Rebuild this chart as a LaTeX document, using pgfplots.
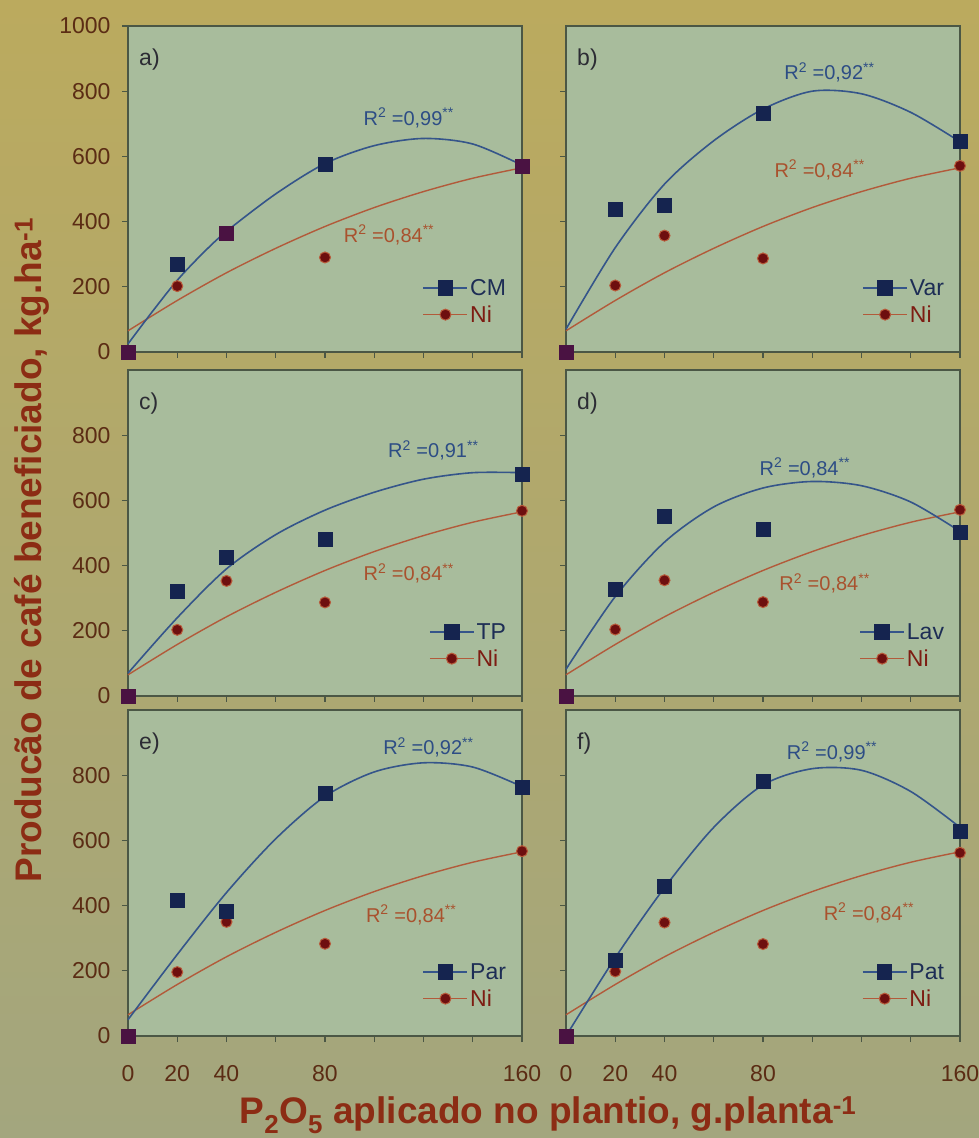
\documentclass[border=0pt]{standalone}
\usepackage{pgfplots}
\pgfplotsset{compat=1.18}
\usepackage{fontspec}
\setmainfont{Liberation Sans}

\definecolor{bgtop}{HTML}{BBAA5E}
\definecolor{bgbot}{HTML}{A3A67E}
\definecolor{panelbg}{HTML}{A8BC9C}
\definecolor{frame}{HTML}{4B5745}
\definecolor{bluemark}{HTML}{15244F}
\definecolor{bluecurve}{HTML}{35558A}
\definecolor{redmark}{HTML}{6E0F0F}
\definecolor{redhalo}{HTML}{B85A3A}
\definecolor{redcurve}{HTML}{B25A3A}
\definecolor{purplemark}{HTML}{4A1242}
\definecolor{ticktext}{HTML}{5B2C14}
\definecolor{labelcol}{HTML}{8C2C14}
\definecolor{rblue}{HTML}{2D4D85}
\definecolor{rred}{HTML}{A9522E}
\definecolor{lettercol}{HTML}{2C2C34}
\definecolor{legblue}{HTML}{1D2D55}
\definecolor{legred}{HTML}{7D1C12}

\newcommand{\fs}[1]{\fontsize{#1}{#1}\selectfont}
\newcommand{\Rsq}[1]{R\textsuperscript{2} =#1\textsuperscript{**}}

\tikzset{
  rlab/.style={font=\fs{20}, text=rred},
  blab/.style={font=\fs{20}, text=rblue},
  plab/.style={font=\fs{23}, text=lettercol, anchor=north west, inner sep=0pt},
}

\pgfplotsset{
  legend image code/.code={\draw[mark repeat=2,mark phase=2,#1] plot coordinates {(0pt,0pt)(22pt,0pt)(44pt,0pt)};},
  panel/.style={
    scale only axis, width=394pt, height=326pt,
    xmin=0, xmax=160, ymin=0, ymax=1000,
    axis background/.style={fill=panelbg},
    axis line style={draw=frame, line width=1.6pt},
    tick style={draw=frame, line width=1.2pt},
    tick align=outside, xtick pos=bottom, ytick pos=left,
    major tick length=6pt, minor tick length=6pt,
    xtick={0,20,40,80,160}, minor xtick={60,100,120,140},
    ytick={0,200,400,600,800},
    xticklabels={}, yticklabels={},
    ticklabel style={font=\fs{23}, text=ticktext},
    xticklabel style={yshift=-20pt},
    yticklabel style={xshift=-8pt},
    clip=false,
    legend style={draw=none, fill=none, font=\fs{23},
      at={(axis description cs:0.965,0.08)}, anchor=south east,
      inner sep=0pt, row sep=5pt},
    legend cell align=left,
  },
  fitb/.style={color=bluecurve, line width=1.6pt, smooth, no markers, forget plot},
  fitr/.style={color=redcurve, line width=1.4pt, smooth, no markers, forget plot},
  datb/.style={only marks, mark=square*, mark size=7pt, mark options={draw=bluemark, fill=bluemark}, forget plot},
  datr/.style={only marks, mark=*, mark size=5.5pt, mark options={draw=redhalo, fill=redmark, line width=1pt}, forget plot},
  datp/.style={only marks, mark=square*, mark size=7pt, mark options={draw=purplemark, fill=purplemark}, forget plot},
  legb/.style={color=bluecurve, line width=1.6pt, mark=square*, mark size=7pt, mark options={draw=bluemark, fill=bluemark}},
  legr/.style={color=redcurve, line width=1.4pt, mark=*, mark size=5.5pt, mark options={draw=redhalo, fill=redmark, line width=1pt}},
}

\begin{document}
\begin{tikzpicture}
\path[use as bounding box] (0pt,0pt) rectangle (979pt,1138pt);
\shade[top color=bgtop, bottom color=bgbot] (0pt,0pt) rectangle (979pt,1138pt);

% ---------------- a) CM
\begin{axis}[panel, at={(128pt,786pt)},
  ytick={0,200,400,600,800,1000}, yticklabels={0,200,400,600,800,1000}]
\addplot[fitr] coordinates {(0,65)(20,158)(40,243)(60,318)(80,385)(100,443)(120,492)(140,533)(160,565)};
\addplot[fitb] coordinates {(0,25)(10,125)(20,220)(30,300)(40,370)(60,485)(80,578)(100,633)(120,655)(140,638)(160,573)};
\addplot[datr] coordinates {(20,202)(40,365)(80,290)(160,570)};
\addplot[datb] coordinates {(20,270)(40,365)(80,576)(160,570)};
\addplot[datp] coordinates {(0,0)(40,365)(160,570)};
\addlegendimage{legb}\addlegendentry{\textcolor{legblue}{CM}}
\addlegendimage{legr}\addlegendentry{\textcolor{legred}{Ni}}
\node[blab] at (axis cs:114,718) {\Rsq{0,99}};
\node[rlab] at (axis cs:106,359) {\Rsq{0,84}};
\node[plab] at (rel axis cs:0.028,0.93) {a)};
\end{axis}

% ---------------- b) Var
\begin{axis}[panel, at={(566pt,786pt)}]
\addplot[fitr] coordinates {(0,65)(20,158)(40,243)(60,318)(80,385)(100,443)(120,492)(140,533)(160,565)};
\addplot[fitb] coordinates {(0,70)(20,320)(40,515)(60,648)(80,745)(100,800)(120,792)(140,735)(160,645)};
\addplot[datr] coordinates {(20,204)(40,357)(80,287)(160,571)};
\addplot[datb] coordinates {(20,437)(40,449)(80,733)(160,647)};
\addplot[datp] coordinates {(0,0)};
\addlegendimage{legb}\addlegendentry{\textcolor{legblue}{Var}}
\addlegendimage{legr}\addlegendentry{\textcolor{legred}{Ni}}
\node[blab] at (axis cs:107,858) {\Rsq{0,92}};
\node[rlab] at (axis cs:103,559) {\Rsq{0,84}};
\node[plab] at (rel axis cs:0.028,0.93) {b)};
\end{axis}

% ---------------- c) TP
\begin{axis}[panel, at={(128pt,442pt)}, yticklabels={0,200,400,600,800}]
\addplot[fitr] coordinates {(0,65)(20,158)(40,243)(60,318)(80,385)(100,443)(120,492)(140,533)(160,565)};
\addplot[fitb] coordinates {(0,70)(20,240)(40,390)(60,495)(80,570)(100,625)(120,665)(140,685)(160,685)};
\addplot[datr] coordinates {(20,203)(40,353)(80,287)(160,568)};
\addplot[datb] coordinates {(20,322)(40,426)(80,482)(160,680)};
\addplot[datp] coordinates {(0,0)};
\addlegendimage{legb}\addlegendentry{\textcolor{legblue}{TP}}
\addlegendimage{legr}\addlegendentry{\textcolor{legred}{Ni}}
\node[blab] at (axis cs:124,754) {\Rsq{0,91}};
\node[rlab] at (axis cs:114,376) {\Rsq{0,84}};
\node[plab] at (rel axis cs:0.028,0.93) {c)};
\end{axis}

% ---------------- d) Lav
\begin{axis}[panel, at={(566pt,442pt)}]
\addplot[fitr] coordinates {(0,65)(20,158)(40,243)(60,318)(80,385)(100,443)(120,492)(140,533)(160,565)};
\addplot[fitb] coordinates {(0,82)(20,305)(40,472)(60,580)(80,638)(100,658)(120,645)(140,595)(160,505)};
\addplot[datr] coordinates {(20,204)(40,355)(80,288)(160,571)};
\addplot[datb] coordinates {(20,328)(40,551)(80,513)(160,503)};
\addplot[datp] coordinates {(0,0)};
\addlegendimage{legb}\addlegendentry{\textcolor{legblue}{Lav}}
\addlegendimage{legr}\addlegendentry{\textcolor{legred}{Ni}}
\node[blab] at (axis cs:97,700) {\Rsq{0,84}};
\node[rlab] at (axis cs:105,345) {\Rsq{0,84}};
\node[plab] at (rel axis cs:0.028,0.93) {d)};
\end{axis}

% ---------------- e) Par
\begin{axis}[panel, at={(128pt,102pt)}, yticklabels={0,200,400,600,800},
  xticklabels={0,20,40,80,160}]
\addplot[fitr] coordinates {(0,65)(20,158)(40,243)(60,318)(80,385)(100,443)(120,492)(140,533)(160,565)};
\addplot[fitb] coordinates {(0,50)(20,250)(40,440)(60,605)(80,735)(100,810)(120,838)(140,825)(160,765)};
\addplot[datr] coordinates {(20,196)(40,350)(80,283)(160,567)};
\addplot[datb] coordinates {(20,418)(40,382)(80,746)(160,762)};
\addplot[datp] coordinates {(0,0)};
\addlegendimage{legb}\addlegendentry{\textcolor{legblue}{Par}}
\addlegendimage{legr}\addlegendentry{\textcolor{legred}{Ni}}
\node[blab] at (axis cs:122,886) {\Rsq{0,92}};
\node[rlab] at (axis cs:115,372) {\Rsq{0,84}};
\node[plab] at (rel axis cs:0.028,0.93) {e)};
\end{axis}

% ---------------- f) Pat
\begin{axis}[panel, at={(566pt,102pt)}, xticklabels={0,20,40,80,160}]
\addplot[fitr] coordinates {(0,65)(20,158)(40,243)(60,318)(80,385)(100,443)(120,492)(140,533)(160,565)};
\addplot[fitb] coordinates {(0,0)(20,240)(40,455)(60,640)(80,770)(100,820)(120,815)(140,750)(160,640)};
\addplot[datr] coordinates {(20,198)(40,348)(80,282)(160,562)};
\addplot[datb] coordinates {(20,234)(40,459)(80,782)(160,628)};
\addplot[datp] coordinates {(0,0)};
\addlegendimage{legb}\addlegendentry{\textcolor{legblue}{Pat}}
\addlegendimage{legr}\addlegendentry{\textcolor{legred}{Ni}}
\node[blab] at (axis cs:108,871) {\Rsq{0,99}};
\node[rlab] at (axis cs:123,378) {\Rsq{0,84}};
\node[plab] at (rel axis cs:0.028,0.93) {f)};
\end{axis}

\node[rotate=90, font=\bfseries\fs{37}, text=labelcol] at (32pt,588pt)
  {Producão de café beneficiado, kg.ha\textsuperscript{-1}};
\node[anchor=base, font=\bfseries\fs{37}, text=labelcol] at (548pt,14pt)
  {P\textsubscript{2}O\textsubscript{5} aplicado no plantio, g.planta\textsuperscript{-1}};
\end{tikzpicture}
\end{document}
